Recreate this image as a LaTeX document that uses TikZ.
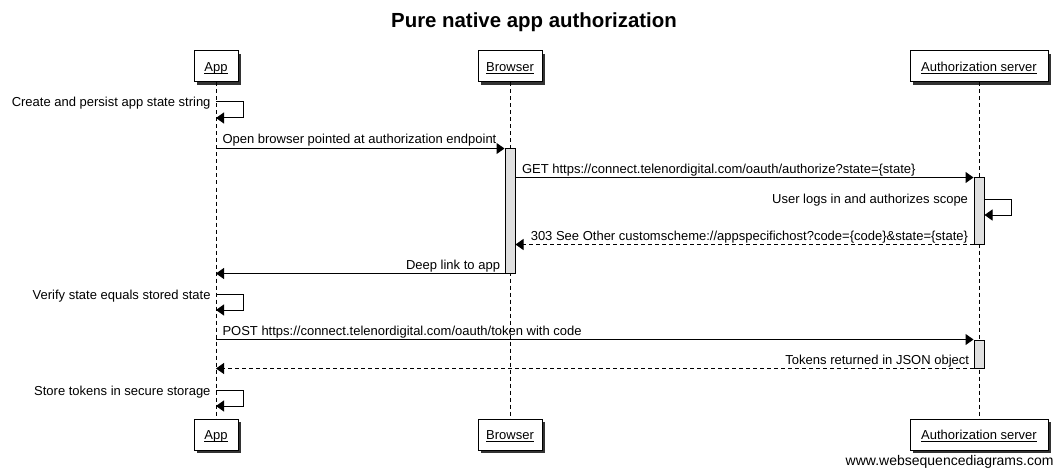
\documentclass[tikz,border=0pt]{standalone}
\usepackage{fontspec}
\setmainfont{Liberation Sans}
\usetikzlibrary{arrows.meta,positioning,calc,shadows,fit}
\definecolor{wsdGrey}{HTML}{E0E0E0}
\newcommand\wsdul[1]{\setbox0=\hbox{#1}\rlap{\rule[-1.8pt]{\wd0}{0.6pt}}\box0}

\begin{document}
\begin{tikzpicture}[x=0.75pt,y=-0.75pt,line width=0.75pt,
  font=\fontsize{9.75}{11.5}\selectfont,
  actor/.style={draw,fill=white,inner sep=0pt,minimum height=23.25pt,
    text height=8.5pt,text depth=1.7pt,
    drop shadow={shadow xshift=2.25pt,shadow yshift=-2.25pt,fill=black!80,opacity=1}},
  lifeline/.style={dash pattern=on 3pt off 2.25pt},
  actbar/.style={draw,fill=wsdGrey,inner sep=0pt},
  msg/.style={-{Triangle[length=6pt,width=8.25pt]}},
  reply/.style={msg,dash pattern=on 3pt off 2.25pt},
  lbl/.style={inner sep=0pt}]
  \fill[white] (0,0) rectangle (1063,474);
  \useasboundingbox (0,0) rectangle (1063,474);

  \node[font=\bfseries\fontsize{15.3}{18}\selectfont,anchor=base] (title) at (534,28)
    {Pure native app authorization};

  % participants and lifelines
  \foreach \id/\x/\w/\txt in {app/216/44/App,brw/510/64/Browser,auth/979/138/Authorization server}{
    \node[actor,minimum width=\w*0.75pt] (\id Top) at (\x,66.5) {\wsdul{\txt}};
    \node[actor,minimum width=\w*0.75pt] (\id Bot) at (\x,434.5) {\wsdul{\txt}};
    \draw[lifeline] (\id Top) -- (\id Bot);
  }

  % activation bars
  \node[actbar,fit={(505,149)(515,273)}] (brwBar) {};
  \node[actbar,fit={(974,178)(984,244)}] (authBarA) {};
  \node[actbar,fit={(974,340)(984,368)}] (authBarB) {};

  % app state
  \coordinate (selfA) at (appTop |- 0,102);
  \draw[msg] (selfA) -- ++(27,0) -- ++(0,16) -- ++(-27,0);
  \node[lbl,anchor=base east] (selfALbl) at ($(selfA)+(-5,5)$) {Create and persist app state string};

  \draw[msg] (appTop |- brwBar.north) -- (brwBar.north west);
  \node[lbl,anchor=base west] (openLbl) at ($(appTop |- brwBar.north)+(6,-5)$)
    {Open browser pointed at authorization endpoint};

  \draw[msg] (brwBar.east |- authBarA.north) -- (authBarA.north west);
  \node[lbl,anchor=base west] (getLbl) at ($(brwBar.east |- authBarA.north)+(6,-4)$)
    {GET https://connect.telenordigital.com/oauth/authorize?state=\{state\}};

  % login at the server
  \coordinate (selfB) at (authBarA.east |- 0,199);
  \draw[msg] (selfB) -- ++(27,0) -- ++(0,16) -- ++(-27,0);
  \node[lbl,anchor=base east] (selfBLbl) at ($(authBarA.west |- selfB)+(-5,5)$)
    {User logs in and authorizes scope};

  \draw[reply] (authBarA.south west) -- (brwBar.east |- authBarA.south);
  \node[lbl,anchor=base east] (seeLbl) at ($(authBarA.south west)+(-5,-4)$)
    {303 See Other customscheme://appspecifichost?code=\{code\}\&state=\{state\}};

  \draw[msg] (brwBar.south west) -- (appTop |- brwBar.south);
  \node[lbl,anchor=base east] (deepLbl) at ($(brwBar.south west)+(-4,-4)$) {Deep link to app};

  \coordinate (selfC) at (appTop |- 0,294);
  \draw[msg] (selfC) -- ++(27,0) -- ++(0,16) -- ++(-27,0);
  \node[lbl,anchor=base east] (selfCLbl) at ($(selfC)+(-5,5)$) {Verify state equals stored state};

  % token exchange
  \draw[msg] (appTop |- authBarB.north) -- (authBarB.north west);
  \node[lbl,anchor=base west] (postLbl) at ($(appTop |- authBarB.north)+(6,-4)$)
    {POST https://connect.telenordigital.com/oauth/token with code};

  \draw[reply] (authBarB.south west) -- (appTop |- authBarB.south);
  \node[lbl,anchor=base east] (tokLbl) at ($(authBarB.south west)+(-4,-4)$)
    {Tokens returned in JSON object};

  \coordinate (selfD) at (appTop |- 0,390);
  \draw[msg] (selfD) -- ++(27,0) -- ++(0,16) -- ++(-27,0);
  \node[lbl,anchor=base east] (selfDLbl) at ($(selfD)+(-5,5)$) {Store tokens in secure storage};

  \node[lbl,anchor=base east,font=\fontsize{10.5}{12}\selectfont] (wsdUrl) at (1054,465)
    {www.websequencediagrams.com};
\end{tikzpicture}
\end{document}
